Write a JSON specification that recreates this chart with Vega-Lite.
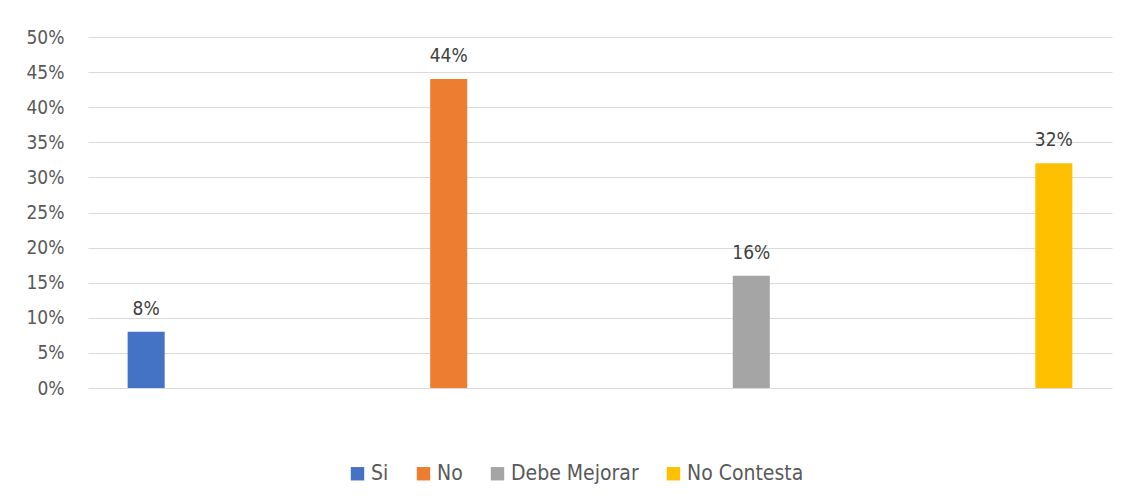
{
  "$schema": "https://vega.github.io/schema/vega-lite/v6.json",
  "autosize": "none",
  "width": 1024,
  "height": 351,
  "padding": {"left": 88, "top": 37, "right": 22, "bottom": 115},
  "background": "white",
  "config": {
    "font": "DejaVu Sans Condensed",
    "view": {"stroke": null}
  },
  "data": {
    "values": [
      {"cat": "Si", "value": 0.08, "label": "8%"},
      {"cat": "No", "value": 0.44, "label": "44%"},
      {"cat": "Debe Mejorar", "value": 0.16, "label": "16%"},
      {"cat": "No Contesta", "value": 0.32, "label": "32%"}
    ]
  },
  "encoding": {
    "x": {
      "field": "cat",
      "type": "nominal",
      "sort": null,
      "scale": {"paddingInner": 0.8776, "paddingOuter": 0.131},
      "axis": null
    },
    "y": {
      "field": "value",
      "type": "quantitative",
      "scale": {"domain": [0, 0.5], "nice": false},
      "axis": {
        "format": ".0%",
        "values": [0, 0.05, 0.1, 0.15, 0.2, 0.25, 0.3, 0.35, 0.4, 0.45, 0.5],
        "domain": false,
        "ticks": false,
        "labelPadding": 24,
        "labelFont": "DejaVu Sans Condensed",
        "labelFontSize": 19,
        "labelColor": "#595959",
        "gridColor": "#d9d9d9",
        "gridWidth": 1.2,
        "title": null
      }
    }
  },
  "layer": [
    {
      "mark": {"type": "bar"},
      "encoding": {
        "color": {
          "field": "cat",
          "type": "nominal",
          "sort": null,
          "scale": {
            "domain": ["Si", "No", "Debe Mejorar", "No Contesta"],
            "range": ["#4472C4", "#ED7D31", "#A5A5A5", "#FFC000"]
          },
          "legend": {
            "orient": "none",
            "legendX": 259,
            "legendY": 426,
            "direction": "horizontal",
            "title": null,
            "symbolType": "square",
            "symbolSize": 180,
            "symbolStrokeWidth": 0,
            "labelFont": "DejaVu Sans Condensed",
            "labelFontSize": 21,
            "labelColor": "#595959",
            "labelOffset": 3,
            "columnPadding": 24
          }
        }
      }
    },
    {
      "mark": {"type": "text", "dy": -17, "baseline": "alphabetic", "fontSize": 19, "color": "#404040", "font": "DejaVu Sans Condensed"},
      "encoding": {
        "text": {"field": "label"}
      }
    }
  ]
}
